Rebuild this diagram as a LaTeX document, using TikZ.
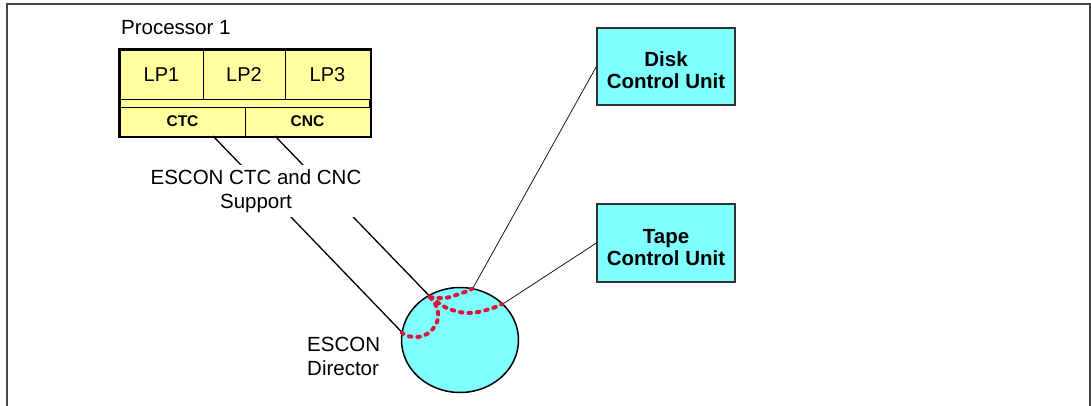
\documentclass[tikz,border=0pt]{standalone}
\usepackage{fontspec}
\setmainfont{Liberation Sans}
\usetikzlibrary{shapes.geometric}
\definecolor{procyellow}{RGB}{255,255,160}
\definecolor{unitcyan}{RGB}{128,255,255}
\definecolor{linkred}{RGB}{220,20,60}
\definecolor{framegray}{RGB}{70,70,70}
\tikzset{
  frameline/.style={draw=framegray, line width=1.3pt},
  cell/.style={draw=black, line width=0.9pt, fill=procyellow, inner sep=0pt,
    font=\fontsize{20}{24}\selectfont},
  bcell/.style={cell, font=\bfseries\fontsize{15.5}{18}\selectfont},
  procbox/.style={draw=black, line width=2pt, fill=procyellow, inner sep=0pt},
  unitbox/.style={draw=black!80, line width=1.2pt, fill=unitcyan, inner sep=0pt, align=center,
    font=\bfseries\fontsize{20.5}{22}\selectfont},
  director/.style={ellipse, draw=black, line width=1.5pt, fill=unitcyan, inner sep=0pt},
  conn/.style={draw=black, line width=1.3pt},
  thinconn/.style={draw=black, line width=0.7pt},
  reddash/.style={draw=linkred, line width=4pt, line cap=round, dash pattern=on 2.5pt off 6pt},
  plain/.style={font=\fontsize{20.5}{24}\selectfont, inner sep=0pt},
}
\begin{document}
\begin{tikzpicture}[x=1pt,y=-1pt]
\useasboundingbox (0,0) rectangle (1091,406);
% frame
\draw[frameline] (7,406) -- (7,4) -- (1090,4) -- (1090,406);

% processor
\node[plain, anchor=base west] (ptitle) at (121,35) {Processor 1};
\node[procbox, minimum width=250pt, minimum height=86pt] (proc) at (245,93) {};
\node[cell, minimum width=83pt, minimum height=49pt] (lp1) at (161.5,74.5) {LP1};
\node[cell, minimum width=82pt, minimum height=49pt] (lp2) at (244,74.5) {LP2};
\node[cell, minimum width=85pt, minimum height=49pt] (lp3) at (327.5,74.5) {LP3};
\node[bcell, minimum width=125pt, minimum height=29pt] (ctc) at (182.5,121.5) {CTC};
\node[bcell, minimum width=125pt, minimum height=29pt] (cnc) at (307.5,121.5) {CNC};
\draw[line width=2pt] (proc.north west) rectangle (proc.south east);
\coordinate (ctcport) at (213,136);
\coordinate (cncport) at (275,136);

% control units
\node[unitbox, minimum width=138pt, minimum height=77pt] (disk) at (666,66.5) {\rule{0pt}{23pt}Disk\\Control Unit};
\node[unitbox, minimum width=138pt, minimum height=78pt] (tape) at (666,243) {\rule{0pt}{23pt}Tape\\Control Unit};

% director
\node[director, minimum width=117pt, minimum height=105pt] (dir) at (460,340) {};
\node[plain, anchor=north west, align=left] (dirlabel) at (307,337.3) {ESCON\\Director};

% connectors
\draw[conn] (ctcport) -- (dir.172);
\draw[conn] (cncport) -- (dir.125);
\draw[thinconn] (dir.76) -- (disk.west);
\draw[thinconn] (dir.40) -- (tape.west);

% label over links
\node[plain, fill=white, align=center, inner xsep=3pt, inner ysep=4.5pt] (support) at (256,191)
  {ESCON CTC and CNC\\Support};

% paths through director
\draw[reddash] plot[smooth, tension=0.7] coordinates {(430,297) (437,308) (437,322) (427,334) (413,337) (402,333)};
\draw[reddash] plot[smooth, tension=0.7] coordinates {(430,297) (445,298) (462,293) (472,289)};
\draw[reddash] plot[smooth, tension=0.7] coordinates {(430,297) (440,304) (452,310) (470,313) (490,309) (502,304)};
\end{tikzpicture}
\end{document}
